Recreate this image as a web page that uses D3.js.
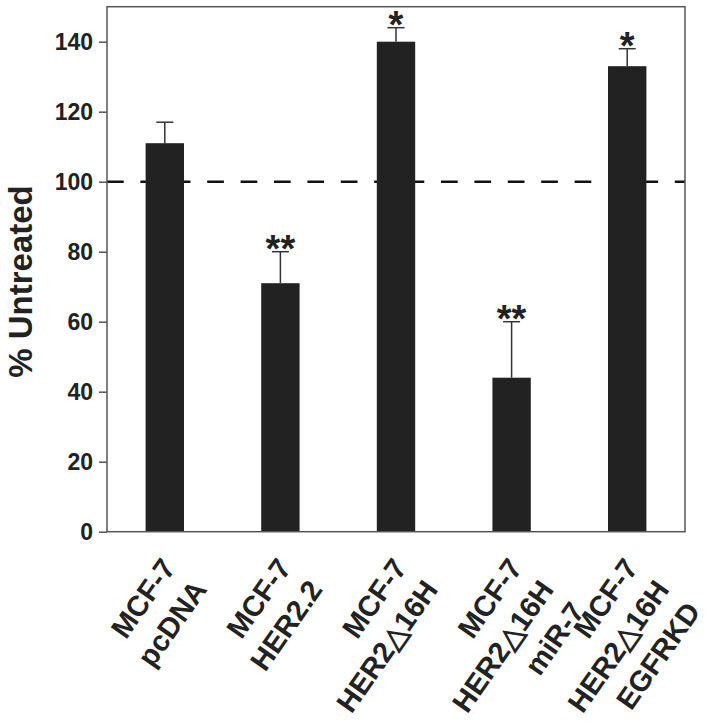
<!DOCTYPE html>
<html><head><meta charset="utf-8">
<script src="https://cdn.jsdelivr.net/npm/d3@7"></script>
<style>body{margin:0;background:#fff}</style>
</head><body>
<script>
const categories = [["MCF-7","pcDNA"],["MCF-7","HER2.2"],["MCF-7","HER2\u25B316H"],["MCF-7","HER2\u25B316H","miR-7"],["MCF-7","HER2\u25B316H","EGFRKD"]];
const values = [111, 71, 140, 44, 133];
const errors = [6, 9, 4, 16, 5];
const stars = ["", "**", "*", "**", "*"];
const yTicks = [0,20,40,60,80,100,120,140];
const refLine = 100;

const W = 725, H = 723;
const m = {l:107, t:6.7, r:40, b:191.3};
const pw = W - m.l - m.r, ph = H - m.t - m.b;
const font = "'Liberation Sans', Arial, sans-serif";

const svg = d3.select("body").append("svg").attr("width", W).attr("height", H);
const g = svg.append("g").attr("transform", `translate(${m.l},${m.t})`);

const x = d3.scaleBand().domain(d3.range(values.length)).range([0, pw]).paddingInner(0.668).paddingOuter(0.334);
const y = d3.scaleLinear().domain([0,150]).range([ph, 0]);

g.append("line").attr("x1",0).attr("x2",pw).attr("y1",y(refLine)).attr("y2",y(refLine))
  .attr("stroke","#111").attr("stroke-width",2.4).attr("stroke-dasharray","16.7,16.7");

g.selectAll("rect.bar").data(values).join("rect").attr("class","bar")
  .attr("x",(d,i)=>x(i)).attr("width",x.bandwidth())
  .attr("y",d=>y(d)).attr("height",d=>ph-y(d)).attr("fill","#222");

const capW = 17;
const cx = i => x(i)+x.bandwidth()/2;
const eb = g.selectAll("g.eb").data(values).join("g").attr("class","eb");
eb.append("line").attr("x1",(d,i)=>cx(i)).attr("x2",(d,i)=>cx(i))
  .attr("y1",d=>y(d)).attr("y2",(d,i)=>y(d+errors[i])).attr("stroke","#333").attr("stroke-width",1.5);
eb.append("line").attr("x1",(d,i)=>cx(i)-capW/2).attr("x2",(d,i)=>cx(i)+capW/2)
  .attr("y1",(d,i)=>y(d+errors[i])).attr("y2",(d,i)=>y(d+errors[i])).attr("stroke","#333").attr("stroke-width",1.5);

g.selectAll("text.star").data(values).join("text").attr("class","star")
  .attr("x",(d,i)=>cx(i)).attr("y",(d,i)=>y(d+errors[i])+10)
  .attr("text-anchor","middle").attr("font-family",font).attr("font-weight","bold")
  .attr("font-size",38).attr("fill","#222").text((d,i)=>stars[i]);

g.append("rect").attr("x",0).attr("y",0).attr("width",pw).attr("height",ph)
  .attr("fill","none").attr("stroke","#555").attr("stroke-width",1.5);

const ya = g.append("g").call(d3.axisLeft(y).tickValues(yTicks).tickSize(8).tickPadding(6));
ya.select(".domain").remove();
ya.selectAll(".tick line").attr("stroke","#555").attr("stroke-width",1.5);
ya.selectAll(".tick text").attr("font-family",font).attr("font-weight","bold").attr("font-size",23).attr("fill","#222");

svg.append("text").attr("transform",`translate(32,281.5) rotate(-90)`).attr("text-anchor","middle")
  .attr("font-family",font).attr("font-weight","bold").attr("font-size",33).attr("fill","#222").text("% Untreated");

// x labels, rotated -55 degrees, right-aligned multi-line
const xl = g.selectAll("g.xl").data(categories).join("g").attr("class","xl")
  .attr("transform",(d,i)=>`translate(${cx(i)+12},${ph+36}) rotate(-55)`);
xl.selectAll("text").data(d=>d).join("text")
  .attr("x",0).attr("y",(d,j)=>j*38).attr("text-anchor","end")
  .attr("font-family",font).attr("font-weight","bold").attr("font-size",29).attr("fill","#222").text(d=>d);
</script>
</body></html>
